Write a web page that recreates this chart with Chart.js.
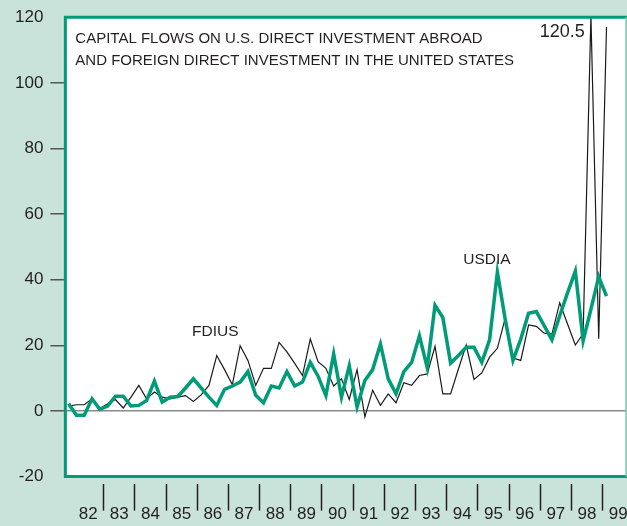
<!DOCTYPE html>
<html>
<head>
<meta charset="utf-8">
<script src="https://cdn.jsdelivr.net/npm/chart.js@4.4.0/dist/chart.umd.min.js"></script>
<style>
html, body { margin: 0; padding: 0; background: #c9e3da; }
#wrap { width: 627px; height: 526px; }
</style>
</head>
<body>
<div id="wrap"><canvas id="flowsChart" width="627" height="526"></canvas></div>
<script>
// quarterly capital flows, billions of dollars
const quarters = [
    '1981Q4',
    '1982Q1', '1982Q2', '1982Q3', '1982Q4', '1983Q1', '1983Q2', '1983Q3', '1983Q4',
    '1984Q1', '1984Q2', '1984Q3', '1984Q4', '1985Q1', '1985Q2', '1985Q3', '1985Q4',
    '1986Q1', '1986Q2', '1986Q3', '1986Q4', '1987Q1', '1987Q2', '1987Q3', '1987Q4',
    '1988Q1', '1988Q2', '1988Q3', '1988Q4', '1989Q1', '1989Q2', '1989Q3', '1989Q4',
    '1990Q1', '1990Q2', '1990Q3', '1990Q4', '1991Q1', '1991Q2', '1991Q3', '1991Q4',
    '1992Q1', '1992Q2', '1992Q3', '1992Q4', '1993Q1', '1993Q2', '1993Q3', '1993Q4',
    '1994Q1', '1994Q2', '1994Q3', '1994Q4', '1995Q1', '1995Q2', '1995Q3', '1995Q4',
    '1996Q1', '1996Q2', '1996Q3', '1996Q4', '1997Q1', '1997Q2', '1997Q3', '1997Q4',
    '1998Q1', '1998Q2', '1998Q3', '1998Q4', '1999Q1'
];
const usdia = [
    2.2,
    -1.3, -1.3, 3.7, 0.5, 1.5, 4.5, 4.5, 1.5,
    1.7, 3.2, 9.1, 2.7, 4.2, 4.4, 7, 9.8,
    7, 4.2, 1.7, 6.6, 7.6, 8.8, 12, 4.8,
    2.5, 7.6, 7, 12, 7.6, 8.8, 14.8, 10.6,
    4.7, 17.4, 4.2, 13.8, 1.2, 9.3, 12.6, 20.4,
    9.8, 5.2, 12, 14.8, 22.9, 13.2, 32.2, 28.5,
    14.6, 16.9, 19.4, 19.4, 14.8, 21.7, 42.3, 28,
    15.4, 21.9, 29.8, 30.3, 26, 21.7, 29, 36,
    42.6, 21.4, 31, 40.9, 35
];
const fdius = [
    1.5,
    1.9, 1.9, 3.7, 0.7, 2.2, 3.5, 0.9, 4.2,
    7.8, 3.7, 5.8, 4.2, 3.7, 4.2, 4.7, 2.9,
    4.9, 7.8, 16.9, 12.6, 8, 19.9, 15.4, 7.8,
    13, 13, 20.9, 18, 14.5, 10.8, 21.9, 15,
    13, 7.6, 9.8, 3.5, 12.6, -1.8, 6.3, 1.7,
    5.2, 2.5, 8.6, 7.8, 10.8, 11.3, 19.7, 5.2,
    5.2, 12.8, 20.1, 9.6, 11.6, 16.4, 19.1, 28.2,
    16.1, 15.4, 26.2, 25.8, 23.7, 23.4, 33, 26.5,
    20.1, 23.5, 120.5, 22, 117
];
const yearMids = [1982.5, 1983.5, 1984.5, 1985.5, 1986.5, 1987.5, 1988.5, 1989.5, 1990.5,
    1991.5, 1992.5, 1993.5, 1994.5, 1995.5, 1996.5, 1997.5, 1998.5, 1999.5];
const yearLabels = ['82', '83', '84', '85', '86', '87', '88', '89', '90',
    '91', '92', '93', '94', '95', '96', '97', '98', '99'];
const yTicks = [-20, 0, 20, 40, 60, 80, 100, 120];

const GREEN = '#009b77';
const INK = '#231f20';
const FONT = "'Liberation Sans', Arial, Helvetica, sans-serif";

// quarter label -> position in years (middle of the quarter)
const yearOf = q => Number(q.slice(0, 4)) + (Number(q.slice(5)) - 0.5) / 4;
const toPoints = vals => vals.map((v, i) => ({ x: yearOf(quarters[i]), y: v }));

const frame = {
    id: 'frame',
    beforeDraw(chart) {
        const { ctx, chartArea: a } = chart;
        ctx.save();
        ctx.fillStyle = '#fff';
        ctx.fillRect(a.left, a.top, a.right - a.left, a.bottom - a.top);
        ctx.restore();
    },
    afterDatasetsDraw(chart) {
        const { ctx, chartArea: a, scales } = chart;
        ctx.save();
        ctx.strokeStyle = GREEN;
        ctx.lineWidth = 3;
        ctx.beginPath();
        ctx.moveTo(a.right + 1, a.top);
        ctx.lineTo(a.left, a.top);
        ctx.lineTo(a.left, a.bottom);
        ctx.lineTo(a.right + 1, a.bottom);
        ctx.stroke();
        ctx.strokeStyle = '#7cc9b0';
        ctx.lineWidth = 1.5;
        ctx.beginPath();
        ctx.moveTo(a.right, a.top);
        ctx.lineTo(a.right, a.bottom);
        ctx.stroke();

        ctx.fillStyle = INK;
        ctx.textBaseline = 'middle';
        ctx.textAlign = 'left';
        ctx.font = '15px ' + FONT;
        ctx.fillText('CAPITAL FLOWS ON U.S. DIRECT INVESTMENT ABROAD', a.left + 10, a.top + 22);
        ctx.fillText('AND FOREIGN DIRECT INVESTMENT IN THE UNITED STATES', a.left + 10, a.top + 44);

        const x = scales.x, y = scales.y;
        ctx.font = '15.5px ' + FONT;
        ctx.textAlign = 'center';
        ctx.fillText('FDIUS', x.getPixelForValue(1986.58), y.getPixelForValue(24));
        ctx.fillText('USDIA', x.getPixelForValue(1995.29), y.getPixelForValue(46));
        ctx.font = '18px ' + FONT;
        ctx.textAlign = 'right';
        ctx.fillText('120.5', x.getPixelForValue(1998.43), y.getPixelForValue(115.5));
        ctx.restore();
    }
};

const ctx = document.getElementById('flowsChart').getContext('2d');
const flowsChart = new Chart(ctx, {
    type: 'line',
    data: {
        datasets: [{
            label: 'USDIA',
            data: toPoints(usdia),
            borderColor: GREEN,
            borderWidth: 3.5,
            pointRadius: 0,
            fill: false
        }, {
            label: 'FDIUS',
            data: toPoints(fdius),
            borderColor: '#1a1a1a',
            borderWidth: 1.2,
            pointRadius: 0,
            fill: false
        }]
    },
    options: {
        responsive: false,
        animation: false,
        layout: { padding: { left: 8, top: 9, right: 1, bottom: 7 } },
        plugins: {
            legend: { display: false },
            tooltip: { enabled: false }
        },
        scales: {
            x: {
                type: 'linear',
                bounds: 'data',
                min: 1981.77,
                max: 1999.75,
                afterBuildTicks: s => { s.ticks = yearMids.map(v => ({ value: v })); },
                ticks: {
                    callback: (v, i) => yearLabels[i],
                    autoSkip: false,
                    maxRotation: 0,
                    padding: -6,
                    color: INK,
                    font: { family: FONT, size: 17, lineHeight: 1.2 }
                },
                grid: {
                    offset: true,
                    drawOnChartArea: false,
                    tickLength: 34,
                    tickWidth: 1.5,
                    tickColor: c => c.index === 0 ? 'rgba(0,0,0,0)' : INK
                },
                border: { display: true, width: 14, color: 'rgba(0,0,0,0)' }
            },
            y: {
                min: -20,
                max: 120,
                afterBuildTicks: s => { s.ticks = yTicks.map(v => ({ value: v })); },
                ticks: {
                    padding: 7,
                    color: INK,
                    font: { family: FONT, size: 17, lineHeight: 1.2 }
                },
                grid: {
                    color: c => (c.tick && c.tick.value === 0) ? '#8a8a8a' : 'rgba(0,0,0,0)',
                    lineWidth: 1.5,
                    tickLength: 15,
                    tickWidth: 1.5,
                    tickColor: c => (c.tick && (c.tick.value === -20 || c.tick.value === 120)) ? 'rgba(0,0,0,0)' : '#555'
                },
                border: { display: false }
            }
        }
    },
    plugins: [frame]
});
</script>
</body>
</html>
